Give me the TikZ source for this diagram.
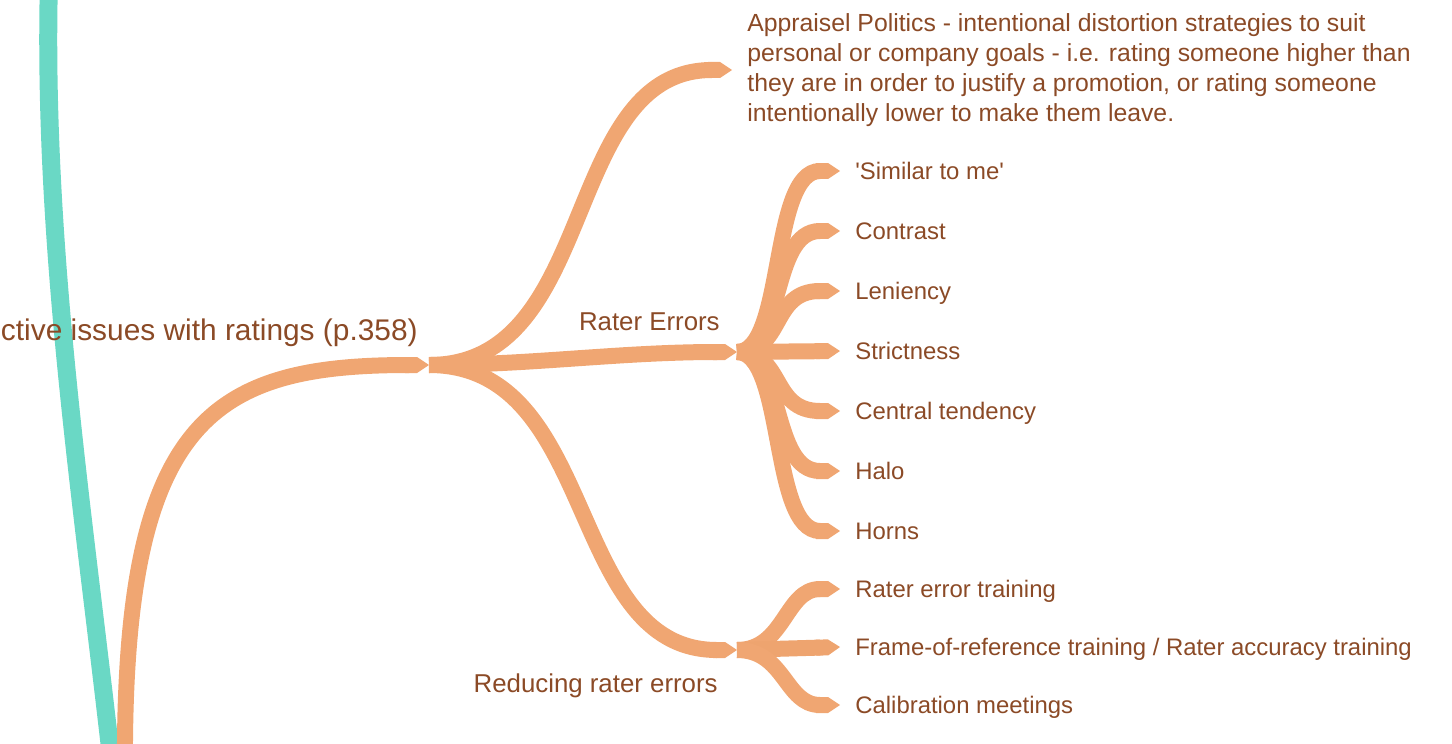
\documentclass[tikz,border=0pt]{standalone}
\usepackage{fontspec}
\setmainfont{Liberation Sans}
\usetikzlibrary{arrows.meta, positioning}
\definecolor{branchOrange}{RGB}{240, 166, 114}
\definecolor{trunkTeal}{RGB}{106, 216, 197}
\definecolor{labelBrown}{RGB}{139, 74, 38}

\begin{document}
\begin{tikzpicture}[x=0.02cm, y=-0.02cm,
    branch/.style={draw=branchOrange, line width=0.32cm, -{Triangle Cap[length=0pt .75]}},
    halo/.style={draw=white, line width=0.44cm, -{Triangle Cap[length=0pt .75]}},
    trunk/.style={draw=trunkTeal, line width=0.36cm},
    leaf/.style={anchor=west, inner sep=0pt, text height=0.34cm, text depth=0pt, text=labelBrown, font=\fontsize{13.6}{17}\selectfont},
    topic/.style={leaf, anchor=east, text height=0.37cm, font=\fontsize{14.7}{18}\selectfont}
]
    \useasboundingbox (0,0) rectangle (1452,743);
    \clip (0,0) rectangle (1452,743);

    \coordinate (top) at (49,-20);
    \coordinate (bot) at (113,775);
    \coordinate (root) at (125,775);
    \coordinate (mj) at (429,365);
    \coordinate (re) at (737,352);
    \coordinate (rd) at (737,650);
    \coordinate (ap) at (732,70);

    % teal trunk
    \draw[trunk] (top) .. controls (42,250) and (85,520) .. (bot);

    % labels
    \node[leaf, anchor=east, text height=0.42cm, font=\fontsize{17}{20}\selectfont] (issues) at (418,330) {ctive issues with ratings (p.358)};
    \node[topic] (errors) at (720,321) {Rater Errors};
    \node[topic] (reducing) at (718,683) {Reducing rater errors};
    \node[leaf, anchor=west, align=left, text height=, text depth=, font=\fontsize{14.1}{17}\selectfont] (politics) at (747,70) {Appraisel Politics - intentional distortion strategies to suit\\personal or company goals - i.e. rating someone higher than\\they are in order to justify a promotion, or rating someone\\intentionally lower to make them leave.};

    \node[leaf] (similar) at (855,171) {\textquotesingle Similar to me\textquotesingle};
    \node[leaf] (contrast) at (855,231) {Contrast};
    \node[leaf] (leniency) at (855,291) {Leniency};
    \node[leaf] (strict) at (855,351) {Strictness};
    \node[leaf] (central) at (855,411) {Central tendency};
    \node[leaf] (halo) at (855,471) {Halo};
    \node[leaf] (horns) at (855,531) {Horns};

    \node[leaf] (errtrain) at (855,589) {Rater error training};
    \node[leaf] (frame) at (855,647) {Frame-of-reference training / Rater accuracy training};
    \node[leaf] (calib) at (855,705) {Calibration meetings};

    % leaves of Rater Errors
    \draw[branch] (re) .. controls (785,352) and (770,171) .. ([xshift=-0.3cm]similar.west);
    \draw[branch] (re) .. controls (785,352) and (770,231) .. ([xshift=-0.3cm]contrast.west);
    \draw[branch] (re) .. controls (785,352) and (770,291) .. ([xshift=-0.3cm]leniency.west);
    \draw[branch] (re) -- ([xshift=-0.3cm]strict.west);
    \draw[branch] (re) .. controls (785,352) and (770,411) .. ([xshift=-0.3cm]central.west);
    \draw[branch] (re) .. controls (785,352) and (770,471) .. ([xshift=-0.3cm]halo.west);
    \draw[branch] (re) .. controls (785,352) and (770,531) .. ([xshift=-0.3cm]horns.west);

    % leaves of Reducing rater errors
    \draw[branch] (rd) .. controls (785,650) and (785,589) .. ([xshift=-0.3cm]errtrain.west);
    \draw[branch, draw=branchOrange!95!brown] (rd) -- ([xshift=-0.3cm]frame.west);
    \draw[branch] (rd) .. controls (785,650) and (785,705) .. ([xshift=-0.3cm]calib.west);

    % first level
    \draw[halo] (re) ++(-8,0) -- (re);
    \draw[halo] (rd) ++(-8,0) -- (rd);
    \draw[branch] (mj) .. controls (600,365) and (560,70) .. (ap);
    \draw[branch] (mj) .. controls (530,365) and (620,352) .. (re);
    \draw[branch] (mj) .. controls (600,365) and (565,650) .. (rd);

    % main branch
    \draw[halo] (mj) ++(-8,0) -- (mj);
    \draw[branch] (root) .. controls (122,420) and (210,365) .. (mj);
\end{tikzpicture}
\end{document}
